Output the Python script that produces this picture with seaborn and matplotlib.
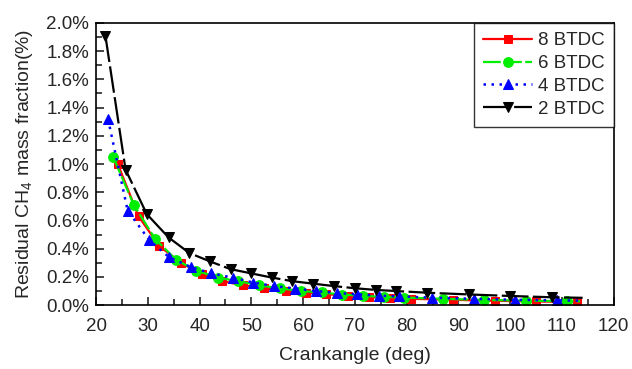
import matplotlib
matplotlib.use('Agg')
import matplotlib.pyplot as plt
import matplotlib.ticker as mticker
import seaborn as sns

# crank angle (deg) and residual CH4 mass fraction (%)
x_8 = [24.2, 28.2, 32.2, 36.4, 40.4, 44.4, 48.4, 52.5, 56.6, 60.6, 64.5, 68.6,
       72.7, 76.7, 80.9, 88.9, 97.0, 105.0, 113.0]
y_8 = [1.00, 0.63, 0.42, 0.30, 0.22, 0.17, 0.14, 0.12, 0.10, 0.088, 0.078, 0.066,
       0.057, 0.050, 0.045, 0.038, 0.031, 0.026, 0.023]

x_6 = [23.3, 27.3, 31.4, 35.5, 39.4, 43.5, 47.5, 51.5, 55.5, 59.6, 63.6, 67.6,
       71.6, 75.7, 79.5, 87.0, 95.0, 103.0, 111.0, 113.5]
y_6 = [1.05, 0.71, 0.47, 0.32, 0.245, 0.195, 0.17, 0.14, 0.12, 0.10, 0.09, 0.075,
       0.066, 0.058, 0.054, 0.045, 0.037, 0.032, 0.028, 0.027]

x_4 = [22.3, 26.1, 30.3, 34.1, 38.3, 42.3, 46.4, 50.4, 54.4, 58.5, 62.5, 66.5,
       70.5, 74.6, 78.6, 84.9, 93.0, 101.0, 109.0, 113.5]
y_4 = [1.32, 0.67, 0.46, 0.34, 0.27, 0.225, 0.195, 0.16, 0.135, 0.118, 0.10, 0.086,
       0.077, 0.067, 0.062, 0.053, 0.045, 0.038, 0.034, 0.032]

x_2 = [21.8, 25.7, 29.8, 34.0, 38.0, 42.0, 46.0, 50.0, 53.9, 57.9, 62.0, 66.0,
       70.0, 74.0, 78.0, 84.0, 92.0, 100.0, 108.0, 114.0]
y_2 = [1.91, 0.96, 0.645, 0.48, 0.37, 0.31, 0.255, 0.225, 0.196, 0.17, 0.152, 0.135,
       0.12, 0.108, 0.10, 0.088, 0.076, 0.065, 0.056, 0.052]

labels = ['8 BTDC', '6 BTDC', '4 BTDC', '2 BTDC']

sns.set_style('ticks')
plt.rcParams['font.family'] = ['Liberation Sans', 'DejaVu Sans']
plt.rcParams['mathtext.fontset'] = 'custom'
plt.rcParams['mathtext.rm'] = 'Liberation Sans'
plt.rcParams['mathtext.it'] = 'Liberation Sans'

fig = plt.figure(figsize=(6.32, 3.69), dpi=100)
ax = fig.add_axes([0.152, 0.173, 0.819, 0.765])

sns.lineplot(x=x_8, y=y_8, ax=ax, color='#ff0000', linestyle='-', lw=1.6,
             marker='s', ms=5.5, mec='#ff0000', label=labels[0])
sns.lineplot(x=x_6, y=y_6, ax=ax, color='#00ee00', linestyle=(0, (8, 1.5)), lw=1.6,
             marker='o', ms=7, mec='#00ee00', markevery=list(range(len(x_6) - 1)),
             label=labels[1])
sns.lineplot(x=x_4, y=y_4, ax=ax, color='#0000ff', linestyle=(0, (1, 2.2)), lw=1.8,
             marker='^', ms=7.5, mec='#0000ff', markevery=list(range(len(x_4) - 1)),
             label=labels[2])
sns.lineplot(x=x_2, y=y_2, ax=ax, color='black', linestyle=(0, (12, 2)), lw=1.6,
             marker='v', ms=7.5, mec='black', markevery=list(range(len(x_2) - 1)),
             label=labels[3])

ax.set_xlim(20, 120)
ax.set_ylim(0, 2.0)
ax.xaxis.set_major_locator(mticker.MultipleLocator(10))
ax.xaxis.set_minor_locator(mticker.MultipleLocator(5))
ax.yaxis.set_major_locator(mticker.MultipleLocator(0.2))
ax.yaxis.set_minor_locator(mticker.MultipleLocator(0.1))
ax.yaxis.set_major_formatter(mticker.FormatStrFormatter('%.1f%%'))
ax.tick_params(which='both', direction='in', labelsize=13.5, width=1.2)
ax.tick_params(axis='x', pad=9)
ax.tick_params(axis='y', pad=5)
ax.tick_params(which='major', length=6)
ax.tick_params(which='minor', length=4)
for s in ax.spines.values():
    s.set_visible(True)
    s.set_linewidth(1.2)
    s.set_color('black')

ax.set_xlabel('Crankangle (deg)', fontsize=14, labelpad=9)
ax.set_ylabel('Residual CH$_4$ mass fraction(%)', fontsize=14, labelpad=8)

leg = ax.legend(loc='upper right', fontsize=13.5, frameon=True, fancybox=False,
                borderaxespad=0, edgecolor='black', handlelength=2.6,
                labelspacing=0.3, handletextpad=0.3, borderpad=0.5)
leg.get_frame().set_linewidth(1.0)

fig.savefig('out.png', dpi=100)
